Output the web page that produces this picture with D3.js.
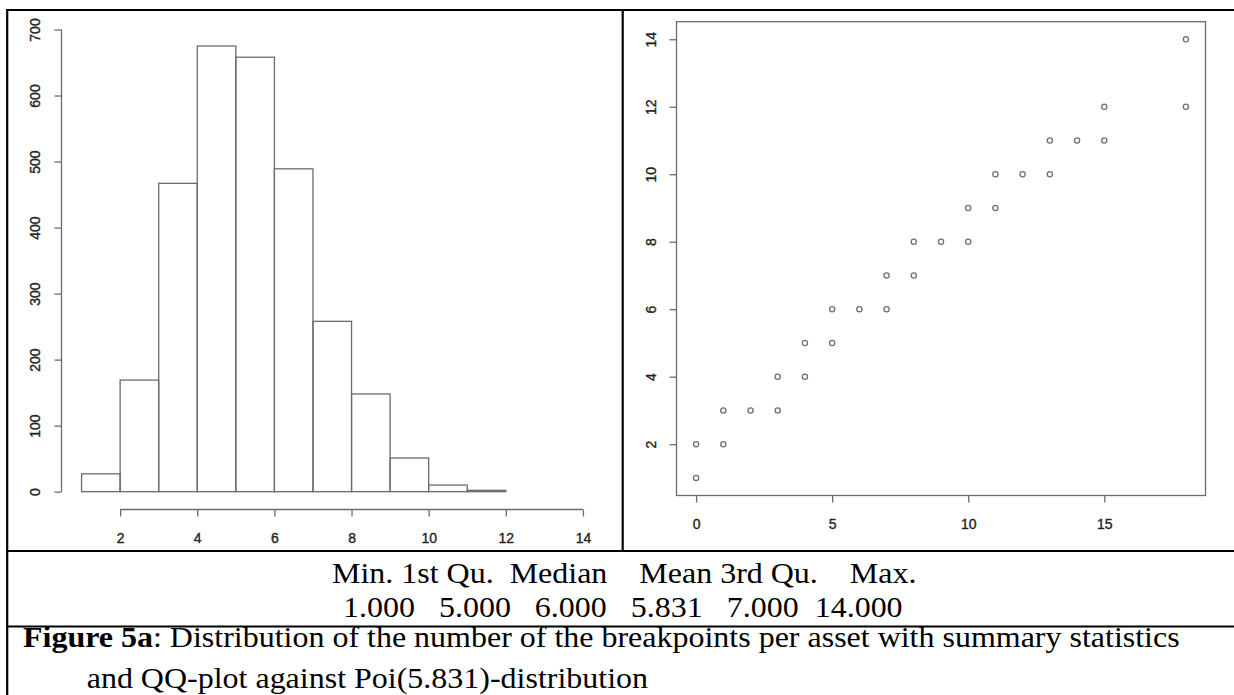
<!DOCTYPE html>
<html><head><meta charset="utf-8">
<script src="https://cdn.jsdelivr.net/npm/d3@7"></script>
<style>body{margin:0;background:#fff}svg{display:block}</style>
</head><body><svg id="c" width="1234" height="695"></svg>
<script>
// ---------- data ----------
const histBreaks = [1,2,3,4,5,6,7,8,9,10,11,12,13,14];
const histCounts = [27,169,467,675,658,489,258,148,51,10,2,0,0];
const histXTicks = [2,4,6,8,10,12,14];
const histYTicks = [0,100,200,300,400,500,600,700];
const qqTheoretical = [0,0,1,1,2,3,3,4,4,5,5,6,7,7,8,8,9,10,10,11,11,12,13,13,14,15,15,18,18];
const qqSample      = [1,2,2,3,3,3,4,4,5,5,6,6,6,7,7,8,8,8,9,9,10,10,10,11,11,11,12,12,14];
const qqXTicks = [0,5,10,15];
const qqYTicks = [2,4,6,8,10,12,14];
const summaryHeader = "Min. 1st Qu.  Median    Mean 3rd Qu.    Max.";
const summaryValues = "1.000   5.000   6.000   5.831   7.000  14.000";
const captionBold = "Figure 5a";
const captionRest = ": Distribution of the number of the breakpoints per asset with summary statistics";
const captionLine2 = "and QQ-plot against Poi(5.831)-distribution";

// ---------- setup ----------
const svg = d3.select("#c");
svg.append("rect").attr("width",1234).attr("height",695).attr("fill","#fff");
const LINE = "#6c6c6c", LW = 1.3, LABEL = "#222";
const axisFont = "'Liberation Sans', Arial, sans-serif";

function styleAxis(g, rotate, off) {
  g.select(".domain").remove();
  g.selectAll(".tick line").attr("stroke", LINE).attr("stroke-width", LW);
  g.selectAll(".tick text")
    .attr("fill", LABEL).attr("stroke", LABEL).attr("stroke-width", 0.35)
    .attr("font-family", axisFont).attr("font-size", 14)
    .attr("text-anchor","middle");
  if (rotate) {
    g.selectAll(".tick text").attr("x", null).attr("y", null)
      .attr("dy","0.36em")
      .attr("transform", `translate(${-off},0) rotate(-90)`);
  } else {
    g.selectAll(".tick text").attr("y", off).attr("dy","0.36em");
  }
}

// ---------- histogram ----------
const xL = d3.scaleLinear().domain([0.48, 14.52]).range([61.5, 603]);
const yL = d3.scaleLinear().domain([-27, 700]).range([509.5, 29.5]);
const bins = histCounts.map((c,i)=>({x0:histBreaks[i], x1:histBreaks[i+1], c}));
const gH = svg.append("g");
gH.selectAll("rect.bar").data(bins).join("rect").attr("class","bar")
  .attr("x", d=>xL(d.x0)).attr("width", d=>xL(d.x1)-xL(d.x0))
  .attr("y", d=>yL(d.c)).attr("height", d=>yL(0)-yL(d.c))
  .attr("fill","none").attr("stroke",LINE).attr("stroke-width",LW);

const gxL = gH.append("g").attr("transform",`translate(0,${yL.range()[0]})`)
  .call(d3.axisBottom(xL).tickValues(histXTicks).tickSize(7).tickFormat(d3.format("d")));
styleAxis(gxL, false, 28.5);
gxL.append("line").attr("x1", xL(histXTicks[0])).attr("x2", xL(histXTicks[histXTicks.length-1]))
  .attr("stroke",LINE).attr("stroke-width",LW);

const gyL = gH.append("g").attr("transform",`translate(${xL.range()[0]},0)`)
  .call(d3.axisLeft(yL).tickValues(histYTicks).tickSize(7).tickFormat(d3.format("d")));
styleAxis(gyL, true, 27);
gyL.append("line").attr("y1", yL(histYTicks[0])).attr("y2", yL(histYTicks[histYTicks.length-1]))
  .attr("stroke",LINE).attr("stroke-width",LW);

// ---------- QQ plot ----------
const xR = d3.scaleLinear().domain([-0.72, 18.72]).range([676.5, 1205.5]);
const yR = d3.scaleLinear().domain([0.48, 14.52]).range([495.5, 21.7]);
const gQ = svg.append("g");
gQ.append("rect").attr("x", xR.range()[0]).attr("y", yR.range()[1])
  .attr("width", xR.range()[1]-xR.range()[0]).attr("height", yR.range()[0]-yR.range()[1])
  .attr("fill","none").attr("stroke",LINE).attr("stroke-width",LW);
gQ.selectAll("circle").data(qqTheoretical.map((t,i)=>[t, qqSample[i]])).join("circle")
  .attr("cx", d=>xR(d[0])).attr("cy", d=>yR(d[1])).attr("r", 2.6)
  .attr("fill","none").attr("stroke","#707070").attr("stroke-width",1.3);
const gxR = gQ.append("g").attr("transform",`translate(0,${yR.range()[0]})`)
  .call(d3.axisBottom(xR).tickValues(qqXTicks).tickSize(7).tickFormat(d3.format("d")));
styleAxis(gxR, false, 28.5);
const gyR = gQ.append("g").attr("transform",`translate(${xR.range()[0]},0)`)
  .call(d3.axisLeft(yR).tickValues(qqYTicks).tickSize(7).tickFormat(d3.format("d")));
styleAxis(gyR, true, 26);

// ---------- table borders ----------
const gB = svg.append("g").attr("stroke","#000").attr("stroke-width",2.2);
gB.append("line").attr("x1",6).attr("x2",1234).attr("y1",10).attr("y2",10);
gB.append("line").attr("x1",7.2).attr("x2",7.2).attr("y1",9).attr("y2",695);
gB.append("line").attr("x1",622.7).attr("x2",622.7).attr("y1",10).attr("y2",551);
gB.append("line").attr("x1",6).attr("x2",1234).attr("y1",551).attr("y2",551);
gB.append("line").attr("x1",6).attr("x2",1234).attr("y1",626.5).attr("y2",626.5);

// ---------- texts ----------
const serif = "'Liberation Serif', 'Times New Roman', serif";
const FS = 29, SX = 32/29;
function textLine(x, y, parts) {
  const g = svg.append("g").attr("transform", `translate(${x},${y}) scale(${SX},1)`);
  const t = g.append("text").attr("font-family", serif).attr("font-size", FS)
    .attr("fill","#000").style("white-space","pre");
  parts.forEach(p => t.append("tspan").attr("font-weight", p.bold ? "bold" : "normal").text(p.s));
  return t;
}
textLine(332, 582.5, [{s: summaryHeader}]);
textLine(343, 617, [{s: summaryValues}]);
textLine(23, 647, [{s: captionBold, bold:true}, {s: captionRest}]);
textLine(86.7, 688, [{s: captionLine2}]);
</script></body></html>
